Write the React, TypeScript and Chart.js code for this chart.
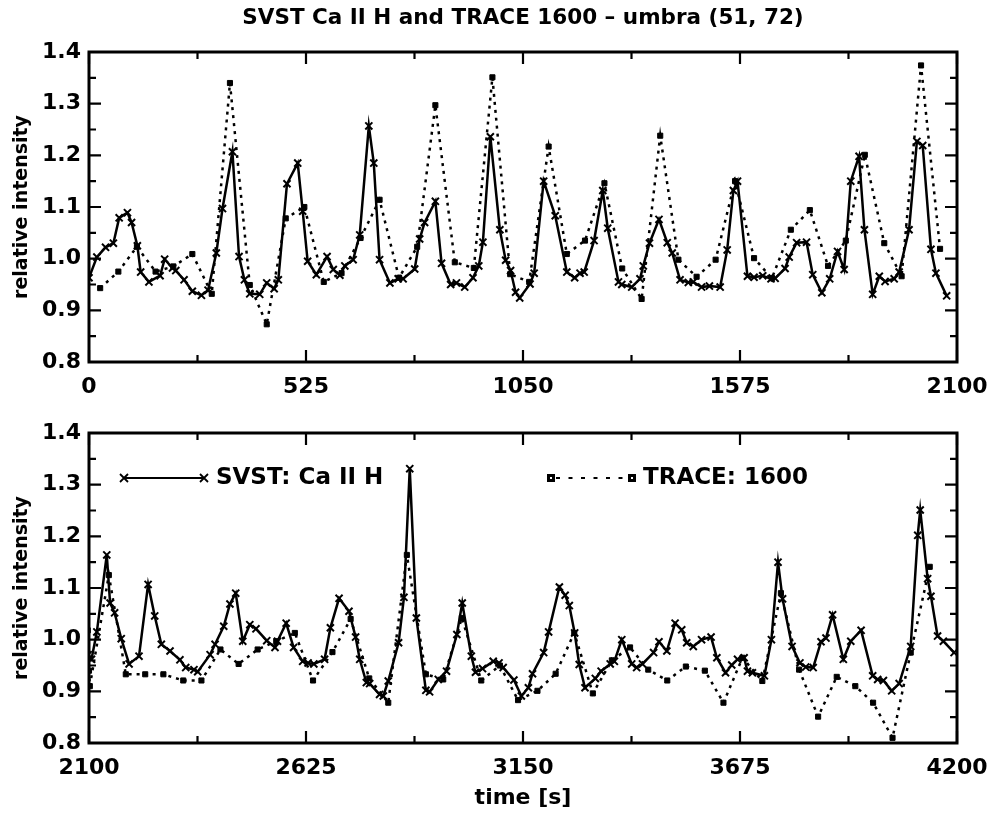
import { useEffect, useRef } from "react";
import { Chart, registerables } from "chart.js";

Chart.register(...registerables);

// ---------------- data ----------------
const titleText = "SVST Ca II H and TRACE 1600 – umbra (51, 72)";
const yTitle = "relative intensity";
const xTitle = "time [s]";
const svstLabel = "SVST: Ca II H";
const traceLabel = "TRACE: 1600";

const yTicks = [0.8, 0.9, 1.0, 1.1, 1.2, 1.3, 1.4];
const xTicksTop = [0, 525, 1050, 1575, 2100];
const xTicksBottom = [2100, 2625, 3150, 3675, 4200];
const xMinorStep = 262.5;
const yMinorStep = 0.05;

// top panel: SVST Ca II H
const svstTimeTop = [
  0, 19, 40, 59, 73, 93, 103, 117, 125, 145, 172, 183, 202, 210, 230, 250, 272, 288, 308, 323,
  347, 363, 376, 389, 413, 430, 448, 458, 479, 505, 517, 529, 550, 576, 591, 607, 619, 639, 655, 677,
  689, 703, 728, 748, 760, 788, 800, 812, 838, 853, 875, 889, 909, 929, 943, 953, 971, 994, 1008, 1020,
  1032, 1042, 1067, 1077, 1100, 1128, 1156, 1175, 1188, 1198, 1222, 1243, 1255, 1281, 1289, 1313, 1333, 1341, 1356, 1379,
  1399, 1411, 1430, 1450, 1462, 1482, 1501, 1527, 1544, 1559, 1569, 1593, 1609, 1630, 1650, 1660, 1684, 1694, 1712, 1736,
  1751, 1773, 1792, 1811, 1827, 1843, 1863, 1876, 1896, 1912, 1926, 1948, 1960, 1984, 2003, 2017, 2037, 2049, 2075,
];
const svstTop = [
  0.963, 1.003, 1.022, 1.03, 1.079, 1.089, 1.07, 1.025, 0.974, 0.955, 0.967, 0.999, 0.982, 0.977, 0.959, 0.937, 0.929, 0.939, 1.011, 1.097,
  1.207, 1.004, 0.959, 0.932, 0.931, 0.953, 0.942, 0.959, 1.145, 1.185, 1.092, 0.995, 0.969, 1.004, 0.979, 0.968, 0.986, 0.998, 1.046, 1.257,
  1.185, 0.998, 0.953, 0.961, 0.961, 0.98, 1.038, 1.07, 1.111, 0.991, 0.95, 0.953, 0.945, 0.963, 0.986, 1.032, 1.236, 1.056, 0.997, 0.977,
  0.935, 0.924, 0.951, 0.972, 1.15, 1.083, 0.974, 0.963, 0.972, 0.974, 1.035, 1.132, 1.059, 0.955, 0.95, 0.945, 0.961, 0.986, 1.03, 1.076,
  1.031, 1.011, 0.959, 0.954, 0.955, 0.945, 0.947, 0.945, 1.017, 1.132, 1.15, 0.966, 0.964, 0.967, 0.961, 0.962, 0.981, 1.003, 1.031, 1.032,
  0.969, 0.934, 0.961, 1.014, 0.979, 1.15, 1.198, 1.056, 0.931, 0.966, 0.956, 0.961, 0.974, 1.056, 1.227, 1.219, 1.018, 0.972, 0.928,
];

// top panel: TRACE 1600
const traceTimeTop = [
  27, 71, 116, 161, 204, 250, 297, 341, 389, 430, 476, 521, 568, 611, 657, 703, 750, 794, 838, 885,
  931, 976, 1019, 1065, 1112, 1156, 1200, 1247, 1290, 1337, 1382, 1426, 1470, 1516, 1563, 1609, 1652, 1698, 1744, 1788,
  1831, 1877, 1924, 1966, 2013, 2059,
];
const traceTop = [
  0.943, 0.975, 1.023, 0.975, 0.985, 1.009, 0.932, 1.34, 0.949, 0.873, 1.078, 1.1, 0.955, 0.972, 1.04, 1.114, 0.963, 1.023, 1.297, 0.993,
  0.982, 1.351, 0.97, 0.955, 1.217, 1.009, 1.035, 1.146, 0.981, 0.922, 1.238, 0.998, 0.965, 0.998, 1.15, 1.001, 0.962, 1.056, 1.094, 0.986,
  1.035, 1.201, 1.03, 0.966, 1.374, 1.019,
];

// bottom panel: SVST Ca II H
const svstTimeBottom = [
  2098, 2106, 2119, 2143, 2151, 2162, 2178, 2197, 2221, 2243, 2259, 2275, 2296, 2320, 2334, 2354, 2363, 2393, 2405, 2426,
  2441, 2455, 2472, 2489, 2504, 2530, 2550, 2556, 2577, 2595, 2617, 2630, 2644, 2670, 2684, 2705, 2729, 2745, 2755, 2771,
  2779, 2803, 2812, 2824, 2849, 2862, 2876, 2892, 2915, 2924, 2945, 2965, 2990, 3003, 3025, 3035, 3052, 3078, 3092, 3102,
  3128, 3146, 3163, 3173, 3200, 3212, 3238, 3252, 3262, 3275, 3286, 3300, 3325, 3339, 3361, 3371, 3389, 3413, 3425, 3439,
  3466, 3479, 3498, 3518, 3534, 3546, 3562, 3582, 3605, 3619, 3640, 3655, 3669, 3685, 3693, 3705, 3734, 3751, 3767, 3778,
  3801, 3820, 3834, 3852, 3871, 3883, 3899, 3925, 3943, 3968, 3996, 4008, 4022, 4042, 4060, 4088, 4105, 4111, 4129, 4137,
  4153, 4167, 4193,
];
const svstBottom = [
  0.971, 0.962, 1.015, 1.164, 1.071, 1.052, 1.002, 0.953, 0.968, 1.107, 1.046, 0.991, 0.978, 0.961, 0.946, 0.942, 0.938, 0.971, 0.991, 1.026,
  1.069, 1.09, 0.997, 1.029, 1.021, 0.998, 0.985, 0.997, 1.032, 0.985, 0.958, 0.955, 0.953, 0.962, 1.023, 1.08, 1.055, 1.005, 0.962, 0.917,
  0.915, 0.894, 0.891, 0.92, 0.994, 1.082, 1.331, 1.042, 0.902, 0.899, 0.923, 0.939, 1.01, 1.071, 0.968, 0.937, 0.944, 0.958, 0.955, 0.946,
  0.922, 0.891, 0.907, 0.934, 0.975, 1.015, 1.102, 1.086, 1.066, 1.013, 0.952, 0.907, 0.925, 0.939, 0.953, 0.958, 1.0, 0.953, 0.946, 0.953,
  0.975, 0.996, 0.978, 1.032, 1.019, 0.994, 0.987, 1.0, 1.005, 0.965, 0.936, 0.951, 0.962, 0.965, 0.939, 0.936, 0.93, 1.0, 1.15, 1.079,
  0.987, 0.955, 0.947, 0.946, 0.996, 1.003, 1.048, 0.962, 0.997, 1.018, 0.93, 0.923, 0.921, 0.901, 0.915, 0.987, 1.202, 1.251, 1.118, 1.084,
  1.007, 0.997, 0.975,
];

// bottom panel: TRACE 1600
const traceTimeBottom = [
  2097, 2100, 2102, 2148, 2189, 2236, 2280, 2328, 2372, 2418, 2462, 2508, 2553, 2598, 2642, 2689, 2733, 2778, 2824, 2869,
  2915, 2957, 3002, 3049, 3094, 3138, 3185, 3229, 3274, 3319, 3365, 3409, 3453, 3499, 3544, 3590, 3635, 3681, 3729, 3774,
  3818, 3864, 3909, 3954, 3997, 4044, 4088, 4134,
];
const traceBottom = [
  1.018, 0.94, 0.91, 1.125, 0.933, 0.933, 0.933, 0.921, 0.921, 0.981, 0.953, 0.981, 0.997, 1.013, 0.921, 0.976, 1.04, 0.925, 0.878, 1.164,
  0.933, 0.923, 1.042, 0.921, 0.95, 0.883, 0.901, 0.934, 1.013, 0.896, 0.96, 0.985, 0.942, 0.921, 0.948, 0.94, 0.878, 0.965, 0.92, 1.09,
  0.942, 0.851, 0.928, 0.91, 0.878, 0.81, 0.975, 1.141,
];

// ---------------- styling ----------------
const FONT = "'DejaVu Sans', 'Liberation Sans', sans-serif";
const BLACK = "#000000";

const toPoints = (xs: number[], ys: number[]) => xs.map((x, i) => ({ x, y: ys[i] }));

type PanelProps = {
  top: number;
  height: number;
  plotTop: number;
  plotBottom: number;
  xMin: number;
  xMax: number;
  xTicks: number[];
  svstT: number[];
  svstV: number[];
  traceT: number[];
  traceV: number[];
  showTitle?: boolean;
  showXTitle?: boolean;
  showLegend?: boolean;
};

const PLOT_LEFT = 89;
const PLOT_RIGHT = 957;
const WIDTH = 987;
const MAJOR_TICK = 12;
const MINOR_TICK = 7;

function drawCross(ctx: CanvasRenderingContext2D, x: number, y: number, r: number) {
  ctx.beginPath();
  ctx.moveTo(x - r, y - r);
  ctx.lineTo(x + r, y + r);
  ctx.moveTo(x - r, y + r);
  ctx.lineTo(x + r, y - r);
  ctx.stroke();
}

function Panel(p: PanelProps) {
  const ref = useRef<HTMLCanvasElement | null>(null);

  useEffect(() => {
    if (!ref.current) return;
    const xBoxHeight = p.height - p.plotBottom;

    const framePlugin = {
      id: "idlFrame",
      afterDatasetsDraw(chart: any) {
        const { ctx, chartArea } = chart;
        const { left, right, top, bottom } = chartArea;
        const xs = chart.scales.x;
        const ys = chart.scales.y;
        ctx.save();
        ctx.strokeStyle = BLACK;
        ctx.lineCap = "butt";
        ctx.lineWidth = 2.2;
        let i = 0;
        for (let v = p.xMin; v <= p.xMax + 1e-6; v += xMinorStep, i++) {
          const px = xs.getPixelForValue(v);
          const len = i % 2 === 0 ? MAJOR_TICK : MINOR_TICK;
          ctx.beginPath();
          ctx.moveTo(px, bottom);
          ctx.lineTo(px, bottom - len);
          ctx.moveTo(px, top);
          ctx.lineTo(px, top + len);
          ctx.stroke();
        }
        i = 0;
        for (let v = 0.8; v <= 1.4 + 1e-9; v += yMinorStep, i++) {
          const py = ys.getPixelForValue(v);
          const len = i % 2 === 0 ? MAJOR_TICK : MINOR_TICK;
          ctx.beginPath();
          ctx.moveTo(left, py);
          ctx.lineTo(left + len, py);
          ctx.moveTo(right, py);
          ctx.lineTo(right - len, py);
          ctx.stroke();
        }
        ctx.lineWidth = 3;
        ctx.strokeRect(left, top, right - left, bottom - top);

        if (p.showTitle) {
          ctx.fillStyle = BLACK;
          ctx.font = `bold 21.5px ${FONT}`;
          ctx.textAlign = "center";
          ctx.textBaseline = "middle";
          ctx.fillText(titleText, (left + right) / 2, 18);
        }

        if (p.showLegend) {
          const ly = 78;
          ctx.fillStyle = BLACK;
          ctx.lineWidth = 2.2;
          // SVST entry
          ctx.beginPath();
          ctx.moveTo(124, ly);
          ctx.lineTo(204, ly);
          ctx.stroke();
          ctx.lineWidth = 1.8;
          drawCross(ctx, 124, ly, 4);
          drawCross(ctx, 204, ly, 4);
          ctx.font = `bold 23px ${FONT}`;
          ctx.textAlign = "left";
          ctx.textBaseline = "middle";
          ctx.fillText(svstLabel, 216, ly);
          // TRACE entry
          ctx.lineWidth = 2.2;
          ctx.setLineDash([4, 8.5]);
          ctx.beginPath();
          ctx.moveTo(556, ly);
          ctx.lineTo(630, ly);
          ctx.stroke();
          ctx.setLineDash([]);
          for (const sx of [551, 632]) {
            ctx.fillStyle = BLACK;
            ctx.fillRect(sx - 4, ly - 4, 8, 8);
            ctx.fillStyle = "#ffffff";
            ctx.fillRect(sx - 1, ly - 1, 2, 2);
          }
          ctx.fillStyle = BLACK;
          ctx.fillText(traceLabel, 643, ly);
        }
        ctx.restore();
      },
    };

    const chart = new Chart(ref.current, {
      type: "line",
      data: {
        datasets: [
          {
            label: svstLabel,
            data: toPoints(p.svstT, p.svstV),
            borderColor: BLACK,
            borderWidth: 2.5,
            pointStyle: "crossRot",
            pointRadius: 5,
            pointBorderWidth: 2,
            pointBorderColor: BLACK,
            pointBackgroundColor: BLACK,
            tension: 0,
            fill: false,
          },
          {
            label: traceLabel,
            data: toPoints(p.traceT, p.traceV),
            borderColor: BLACK,
            borderWidth: 2.5,
            borderDash: [3, 5],
            pointStyle: "rect",
            pointRadius: 3.6,
            pointBorderWidth: 1,
            pointBorderColor: BLACK,
            pointBackgroundColor: BLACK,
            tension: 0,
            fill: false,
          },
        ],
      },
      options: {
        animation: false,
        responsive: true,
        maintainAspectRatio: false,
        events: [],
        layout: { padding: { left: 0, right: WIDTH - PLOT_RIGHT, top: p.plotTop, bottom: 0 } },
        plugins: {
          legend: { display: false },
          tooltip: { enabled: false },
          title: { display: false },
        },
        scales: {
          x: {
            type: "linear",
            min: p.xMin,
            max: p.xMax,
            grid: { display: false, drawTicks: false },
            border: { display: false },
            afterBuildTicks: (s: any) => {
              s.ticks = p.xTicks.map((v) => ({ value: v }));
            },
            afterFit: (s: any) => {
              s.height = xBoxHeight;
              s.paddingLeft = 0;
              s.paddingRight = 0;
            },
            ticks: {
              color: BLACK,
              font: { family: FONT, size: 22, weight: "bold" },
              padding: 12,
              autoSkip: false,
              maxRotation: 0,
              callback: (v: any) => String(v),
            },
            title: {
              display: !!p.showXTitle,
              text: xTitle,
              color: BLACK,
              font: { family: FONT, size: 22, weight: "bold" },
              padding: { top: 0, bottom: 2 },
            },
          },
          y: {
            type: "linear",
            min: 0.8,
            max: 1.4,
            grid: { display: false, drawTicks: false },
            border: { display: false },
            afterBuildTicks: (s: any) => {
              s.ticks = yTicks.map((v) => ({ value: v }));
            },
            afterFit: (s: any) => {
              s.width = PLOT_LEFT;
              s.paddingTop = 0;
              s.paddingBottom = 0;
            },
            ticks: {
              color: BLACK,
              font: { family: FONT, size: 22, weight: "bold" },
              padding: 8,
              callback: (v: any) => Number(v).toFixed(1),
            },
            title: {
              display: true,
              text: yTitle,
              color: BLACK,
              font: { family: FONT, size: 19, weight: "bold" },
              padding: { top: 11, bottom: 0 },
            },
          },
        },
      },
      plugins: [framePlugin],
    } as any);

    return () => chart.destroy();
  }, []);

  return (
    <div style={{ position: "absolute", left: 0, top: p.top, width: WIDTH, height: p.height }}>
      <canvas ref={ref} />
    </div>
  );
}

export default function App() {
  return (
    <div style={{ position: "absolute", left: 0, top: 0, width: WIDTH, height: 813, background: "#ffffff" }}>
      <Panel
        top={0}
        height={400}
        plotTop={52}
        plotBottom={362}
        xMin={0}
        xMax={2100}
        xTicks={xTicksTop}
        svstT={svstTimeTop}
        svstV={svstTop}
        traceT={traceTimeTop}
        traceV={traceTop}
        showTitle
      />
      <Panel
        top={400}
        height={413}
        plotTop={33}
        plotBottom={343}
        xMin={2100}
        xMax={4200}
        xTicks={xTicksBottom}
        svstT={svstTimeBottom}
        svstV={svstBottom}
        traceT={traceTimeBottom}
        traceV={traceBottom}
        showXTitle
        showLegend
      />
    </div>
  );
}
